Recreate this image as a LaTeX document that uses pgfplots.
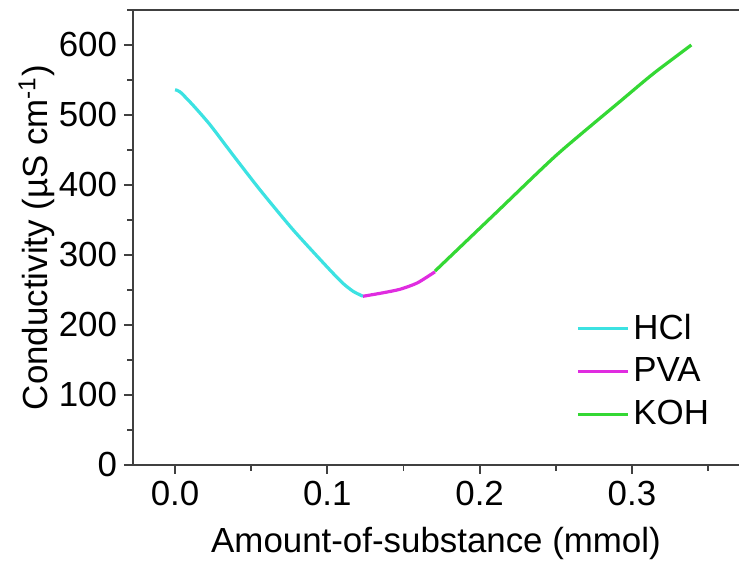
\documentclass[border=0pt]{standalone}
\usepackage{pgfplots}
\pgfplotsset{compat=1.18}
\usepackage{fontspec}
\setmainfont{Liberation Sans}
\definecolor{hclcyan}{HTML}{3CE2E2}
\definecolor{pvamag}{HTML}{E02CE0}
\definecolor{kohgreen}{HTML}{34D834}

\begin{document}
\begin{tikzpicture}
\begin{axis}[
  scale only axis,
  width=303bp, height=227.5bp,
  xmin=-0.0276, xmax=0.3703,
  ymin=0, ymax=650,
  axis x line*=bottom, axis y line*=left,
  axis line style={line width=1bp, black!75},
  every tick/.style={line width=0.9bp, black!75},
  tick align=outside,
  major tick length=4.5bp, minor tick length=2.8bp,
  xtick={0,0.1,0.2,0.3}, minor xtick={0.05,0.15,0.25,0.35},
  ytick={0,100,...,600}, minor ytick={50,150,...,650},
  xticklabel style={/pgf/number format/.cd, fixed, fixed zerofill, precision=1},
  /pgf/number format/assume math mode=true,
  tick label style={font=\fontsize{17.5}{20}\selectfont},
  label style={font=\fontsize{17.5}{20}\selectfont},
  xlabel={Amount-of-substance (mmol)},
  xlabel style={yshift=-4bp},
  ylabel={Conductivity (µS cm\textsuperscript{-1})},
  ylabel style={yshift=-5bp},
  legend style={draw=none, fill=none, font=\fontsize{17.5}{20}\selectfont,
    at={(0.721,0.35)}, anchor=north west, row sep=3.8bp,
    /tikz/every even column/.append style={column sep=0pt}},
  legend cell align=left,
  legend image code/.code={\draw[#1, line width=1.6bp] (0bp,0bp) -- (25bp,0bp);},
]
\addplot[hclcyan, line width=1.6bp, smooth, tension=0.4] coordinates {
  (0.000,536) (0.0033,533) (0.0118,514) (0.023,486) (0.038,443)
  (0.0558,393) (0.0775,336) (0.0998,283) (0.110,260) (0.117,248) (0.1234,241)};
\addplot[pvamag, line width=1.6bp, smooth, tension=0.4] coordinates {
  (0.1234,241) (0.1366,246) (0.1477,251) (0.159,260) (0.1707,276)};
\addplot[kohgreen, line width=1.6bp, smooth, tension=0.4] coordinates {
  (0.1707,277) (0.2106,360) (0.2506,443) (0.292,519) (0.314,559) (0.339,600)};
\legend{HCl,PVA,KOH}
\draw[line width=1bp, black!75] (rel axis cs:0,1) -- (rel axis cs:1,1);
\coordinate (bl) at (rel axis cs:0,0);
\coordinate (tr) at (rel axis cs:1,1);
\end{axis}
\path (bl) ++(-66.5bp,-50bp) coordinate (p1);
\path (tr) ++(0bp,5bp) coordinate (p2);
\pgfresetboundingbox
\path (p1) rectangle (p2);
\end{tikzpicture}
\end{document}
